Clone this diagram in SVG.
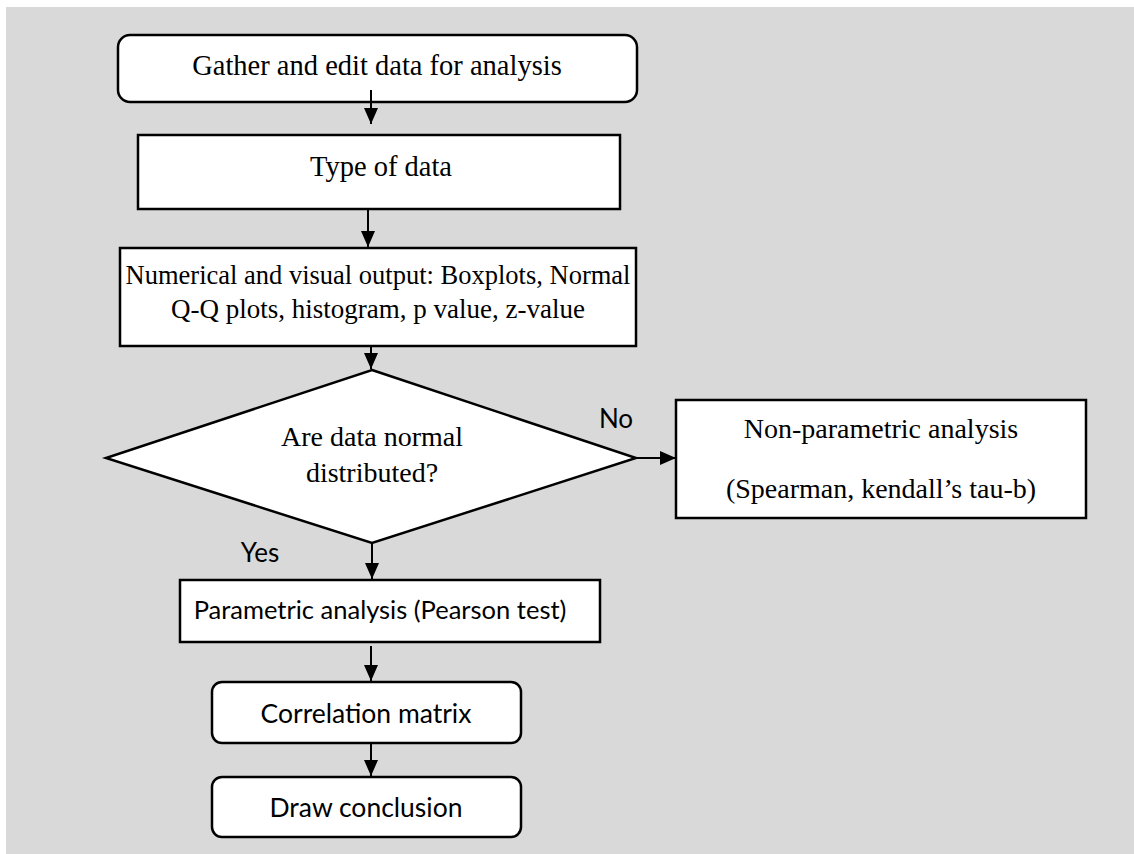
<svg xmlns="http://www.w3.org/2000/svg" width="1134" height="854" viewBox="0 0 1134 854">
  <style>
    .box { fill: #ffffff; stroke: #000000; stroke-width: 2.5; }
    .serif { font-family: "Liberation Serif", "Times New Roman", serif; font-size: 28.5px; fill: #000000; text-anchor: middle; }
    .sans { font-family: Lato, "Liberation Sans", sans-serif; font-size: 26px; fill: #000000; text-anchor: middle; }
    .link { stroke: #000000; stroke-width: 2; fill: none; marker-end: url(#arrow); }
  </style>
  <defs>
    <marker id="arrow" viewBox="0 0 16 14" refX="16" refY="7" markerWidth="16" markerHeight="14" markerUnits="userSpaceOnUse" orient="auto">
      <path d="M0,0 L16,7 L0,14 Z" fill="#000000"/>
    </marker>
  </defs>

  <!-- page background -->
  <rect x="0" y="0" width="1134" height="854" fill="#ffffff"/>
  <rect x="6" y="7" width="1128" height="847" fill="#d9d9d9"/>

  <g id="gather">
    <rect class="box" x="118" y="35" width="519" height="67" rx="12"/>
    <text class="serif" x="377" y="75">Gather and edit data for analysis</text>
  </g>

  <g id="type-of-data">
    <rect class="box" x="138" y="135" width="482" height="74"/>
    <text class="serif" x="381" y="176">Type of data</text>
  </g>

  <g id="output">
    <rect class="box" x="120" y="248" width="516" height="98"/>
    <text class="serif" x="378" y="284" style="font-size:26.5px">Numerical and visual output: Boxplots, Normal</text>
    <text class="serif" x="378" y="318" style="font-size:27px">Q-Q plots, histogram, p value, z-value</text>
  </g>

  <g id="normal-check">
    <polygon class="box" points="372,370 636,458 372,543 106,458"/>
    <text class="serif" x="372" y="446" style="font-size:28px">Are data normal</text>
    <text class="serif" x="372" y="482" style="font-size:28px">distributed?</text>
  </g>

  <g id="non-parametric">
    <rect class="box" x="676" y="400" width="410" height="118"/>
    <text class="serif" x="881" y="438" style="font-size:28px">Non-parametric analysis</text>
    <text class="serif" x="881" y="498" style="font-size:28px">(Spearman, kendall’s tau-b)</text>
  </g>

  <g id="parametric">
    <rect class="box" x="180" y="580" width="420" height="62"/>
    <text class="sans" x="380" y="619" style="font-size:25.5px">Parametric analysis (Pearson test)</text>
  </g>

  <g id="correlation">
    <rect class="box" x="212" y="682" width="309" height="61" rx="10"/>
    <text class="sans" x="366" y="723" style="font-size:26.5px">Correlation matrix</text>
  </g>

  <g id="conclusion">
    <rect class="box" x="212" y="777" width="309" height="60" rx="10"/>
    <text class="sans" x="366" y="817" style="font-size:26.5px">Draw conclusion</text>
  </g>

  <g id="connectors">
    <line class="link" x1="371" y1="90" x2="371" y2="124"/>
    <line class="link" x1="368" y1="210" x2="368" y2="247"/>
    <line class="link" x1="371" y1="347" x2="371" y2="369"/>
    <line class="link" x1="636" y1="458" x2="676" y2="458"/>
    <line class="link" x1="372" y1="543" x2="372" y2="579"/>
    <line class="link" x1="371" y1="646" x2="371" y2="681"/>
    <line class="link" x1="371" y1="743" x2="371" y2="776"/>
    <text class="sans" x="616" y="428">No</text>
    <text class="sans" x="260" y="562">Yes</text>
  </g>
</svg>
